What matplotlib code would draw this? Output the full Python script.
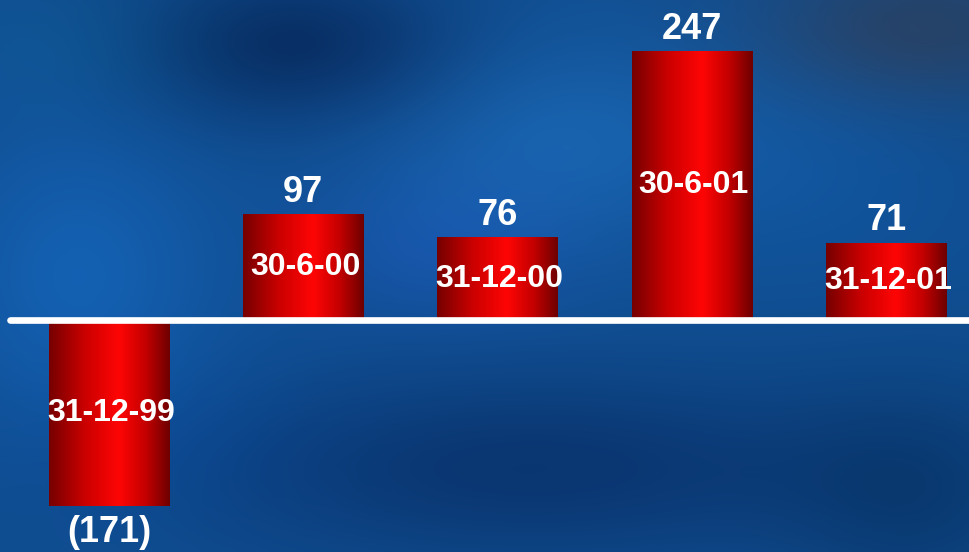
import numpy as np
import matplotlib
matplotlib.use("Agg")
import matplotlib.pyplot as plt
from matplotlib.colors import LinearSegmentedColormap

# Period-end dates and results
dates = ["31-12-99", "30-6-00", "31-12-00", "30-6-01", "31-12-01"]
values = [-171, 97, 76, 247, 71]
value_labels = ["(171)", "97", "76", "247", "71"]

W, H, DPI = 970, 552, 100
fig = plt.figure(figsize=(W / DPI, H / DPI), dpi=DPI)
ax = fig.add_axes([0, 0, 1, 1])

# axis limits chosen so bars sit across the canvas with zero near one-third from the top
x0, x1 = -0.561, 4.431
y0, y1 = -212.8, 293.6
ax.set_xlim(x0, x1)
ax.set_ylim(y0, y1)
ax.axis("off")

# ---- mottled blue backdrop (row 0 = top of canvas) ----
gx, gy = np.meshgrid(np.linspace(0, 1, 400), np.linspace(0, 1, 240))
base = np.array([16, 78, 145], float) / 255.0
img = np.ones((240, 400, 3)) * base
blobs = [
    # (cx, cy, sx, sy, rgb delta) with cy measured from the top
    (0.30, 0.08, 0.12, 0.10, (-8, -32, -45)),
    (0.58, 0.25, 0.14, 0.14, (8, 20, 28)),
    (0.08, 0.50, 0.10, 0.20, (4, 18, 32)),
    (0.95, 0.05, 0.12, 0.10, (22, -12, -42)),
    (0.85, 0.30, 0.10, 0.15, (0, 5, 10)),
    (0.55, 0.85, 0.25, 0.12, (-6, -24, -32)),
    (0.95, 0.90, 0.10, 0.15, (-5, -15, -25)),
    (0.18, 0.80, 0.12, 0.12, (-2, 0, 5)),
    (0.45, 0.45, 0.10, 0.10, (6, 5, 20)),
    (0.08, 0.08, 0.10, 0.08, (0, 8, 5)),
]
for cx, cy, sx, sy, d in blobs:
    g = np.exp(-(((gx - cx) / sx) ** 2 + ((gy - cy) / sy) ** 2) / 2)
    img += g[..., None] * (np.array(d, float) / 255.0)
img = np.clip(img, 0, 1)
ax.imshow(img, extent=[x0, x1, y0, y1], origin="upper", aspect="auto",
          zorder=0, interpolation="bicubic")

# ---- red cylindrical bars ----
cmap = LinearSegmentedColormap.from_list(
    "cyl", [(0.0, "#760000"), (0.30, "#cc0000"), (0.58, "#ff0505"),
            (0.80, "#c40000"), (1.0, "#6e0000")])
grad = np.linspace(0, 1, 256).reshape(1, -1)
xs = np.arange(len(values))
bars = ax.bar(xs, values, width=0.62, color="none", edgecolor="none", zorder=2)
for b in bars:
    bx, by = b.get_x(), b.get_y()
    bw, bh = b.get_width(), b.get_height()
    im = ax.imshow(grad, cmap=cmap, extent=[bx, bx + bw, by, by + bh],
                   aspect="auto", zorder=2, interpolation="bicubic")
    im.set_clip_path(b)
ax.set_xlim(x0, x1)
ax.set_ylim(y0, y1)

# ---- zero line ----
ax.plot([-0.51, x1 + 0.1], [0, 0], color="white", lw=4.8,
        solid_capstyle="round", zorder=3)

# ---- labels ----
font = "Liberation Sans"
for x, v, lab, d in zip(xs, values, value_labels, dates):
    ax.text(x + 0.01, v / 2, d, ha="center", va="center", color="white",
            fontsize=23, fontweight="bold", family=font, zorder=4)
    if v >= 0:
        ax.annotate(lab, (x, v), xytext=(0, 3), textcoords="offset points",
                    ha="center", va="bottom", color="white", fontsize=26,
                    fontweight="bold", family=font, zorder=4)
    else:
        ax.annotate(lab, (x, v), xytext=(0, -6), textcoords="offset points",
                    ha="center", va="top", color="white", fontsize=26,
                    fontweight="bold", family=font, zorder=4)

fig.savefig("out.png", dpi=DPI)
